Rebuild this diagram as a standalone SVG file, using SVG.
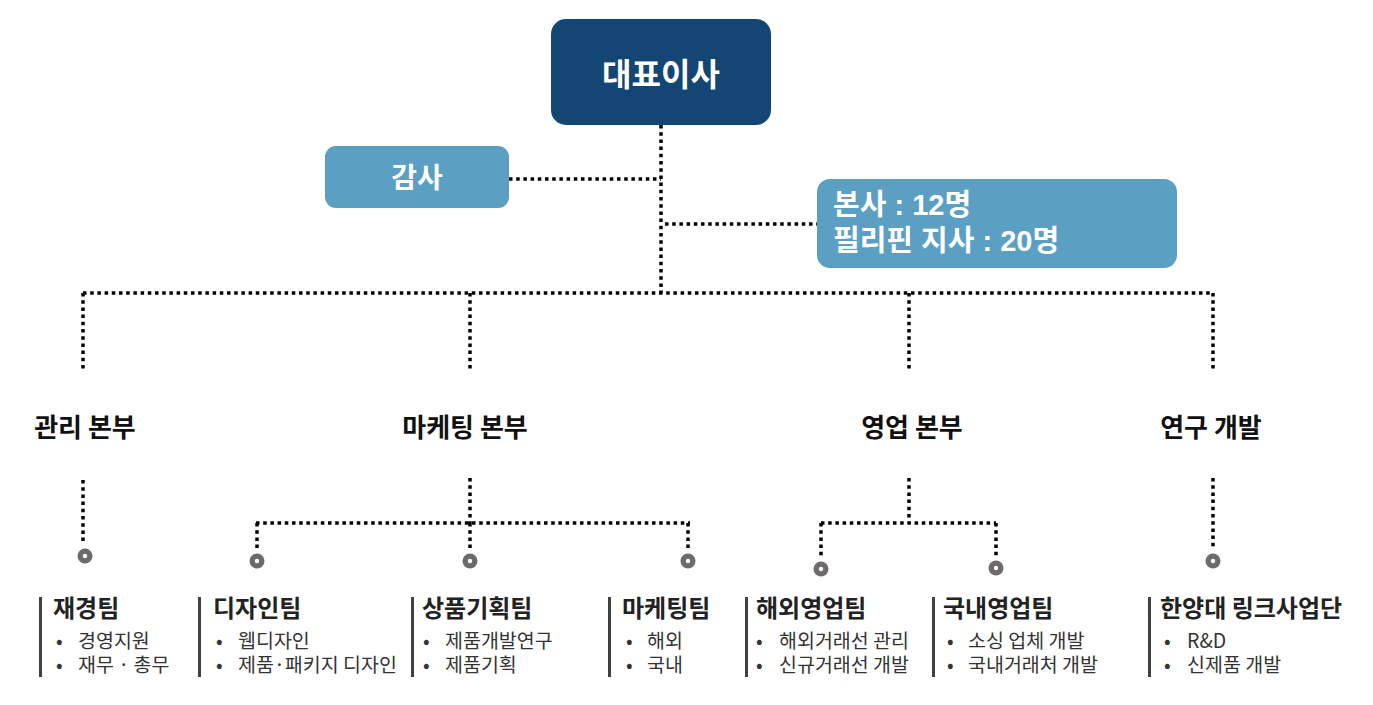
<svg xmlns="http://www.w3.org/2000/svg" width="1373" height="705" viewBox="0 0 1373 705">
<style>
.dot{fill:none;stroke:#000;stroke-width:3.5;stroke-dasharray:3.5 3.7}
.k{font-family:"Noto Sans CJK KR","Liberation Sans",sans-serif}
.box{font-family:"Liberation Sans","Noto Sans CJK KR",sans-serif;font-weight:bold;fill:#fff}
.dept{font-family:"Noto Sans CJK KR",sans-serif;font-weight:bold;font-size:26px;fill:#111;text-anchor:middle}
.tt{font-family:"Noto Sans CJK KR",sans-serif;font-weight:bold;font-size:24px;fill:#222}
.it{font-family:"Noto Sans CJK KR",sans-serif;font-size:19.5px;fill:#333}
.bar{fill:#404040}
.ring{fill:#6e6a6b}
.hole{fill:#fff}
</style>
<rect width="1373" height="705" fill="#fff"/>
<g id="connectors">
<path class="dot" d="M661 125V293"/>
<path class="dot" d="M509 179H661"/>
<path class="dot" d="M665 224H818"/>
<path class="dot" d="M83 293H1213"/>
<path class="dot" d="M83 293V372M470 293V372M909 293V372M1213 293V372"/>
<path class="dot" d="M83 480V544"/>
<path class="dot" d="M470 478V523M256 523H690M257 523V550M470 523V550M688 523V550"/>
<path class="dot" d="M909 478V523M821 523H996M821 523V558M996 523V557"/>
<path class="dot" d="M1213 478V550"/>
</g>
<g id="ceo">
<rect x="551" y="19" width="220" height="106" rx="15" fill="#134673"/>
<text class="box k" x="661" y="86" font-size="32" text-anchor="middle">대표이사</text>
</g>
<g id="audit">
<rect x="325" y="146" width="184" height="62" rx="11" fill="#5b9fc3"/>
<text class="box k" x="417" y="188" font-size="28" text-anchor="middle">감사</text>
</g>
<g id="staff">
<rect x="817" y="179" width="360" height="89" rx="13" fill="#5b9fc3"/>
<text class="box" font-size="29"><tspan x="833" y="215">본사 : 12명</tspan><tspan x="833" y="251">필리핀 지사 : 20명</tspan></text>
</g>
<g id="dept-admin"><text class="dept" x="85" y="437">관리 본부</text></g>
<g id="dept-marketing"><text class="dept" x="465" y="437">마케팅 본부</text></g>
<g id="dept-sales"><text class="dept" x="912" y="437">영업 본부</text></g>
<g id="dept-rnd"><text class="dept" x="1211" y="437">연구 개발</text></g>
<g id="circles">
<circle class="ring" cx="85" cy="556" r="7.5"/><circle class="hole" cx="85" cy="556" r="2.2"/>
<circle class="ring" cx="257" cy="561" r="7.5"/><circle class="hole" cx="257" cy="561" r="2.2"/>
<circle class="ring" cx="470" cy="561" r="7.5"/><circle class="hole" cx="470" cy="561" r="2.2"/>
<circle class="ring" cx="688" cy="561" r="7.5"/><circle class="hole" cx="688" cy="561" r="2.2"/>
<circle class="ring" cx="821" cy="569" r="7.5"/><circle class="hole" cx="821" cy="569" r="2.2"/>
<circle class="ring" cx="996" cy="568" r="7.5"/><circle class="hole" cx="996" cy="568" r="2.2"/>
<circle class="ring" cx="1213" cy="561" r="7.5"/><circle class="hole" cx="1213" cy="561" r="2.2"/>
</g>
<g id="team-finance">
<rect class="bar" x="39" y="597" width="3" height="80"/>
<text class="tt" x="53" y="617">재경팀</text>
<text class="it"><tspan x="56" y="648">•</tspan><tspan x="78">경영지원</tspan><tspan x="56" y="672">•</tspan><tspan x="78">재무 · 총무</tspan></text>
</g>
<g id="team-design">
<rect class="bar" x="198" y="597" width="3" height="80"/>
<text class="tt" x="213" y="617">디자인팀</text>
<text class="it"><tspan x="216" y="648">•</tspan><tspan x="238">웹디자인</tspan><tspan x="216" y="672">•</tspan><tspan x="238">제품·패키지 디자인</tspan></text>
</g>
<g id="team-product">
<rect class="bar" x="411" y="597" width="3" height="80"/>
<text class="tt" x="422" y="617">상품기획팀</text>
<text class="it"><tspan x="423" y="648">•</tspan><tspan x="445">제품개발연구</tspan><tspan x="423" y="672">•</tspan><tspan x="445">제품기획</tspan></text>
</g>
<g id="team-marketing">
<rect class="bar" x="608" y="597" width="3" height="80"/>
<text class="tt" x="622" y="617">마케팅팀</text>
<text class="it"><tspan x="626" y="648">•</tspan><tspan x="647">해외</tspan><tspan x="626" y="672">•</tspan><tspan x="647">국내</tspan></text>
</g>
<g id="team-overseas">
<rect class="bar" x="745" y="597" width="3" height="80"/>
<text class="tt" x="756" y="617">해외영업팀</text>
<text class="it"><tspan x="756" y="648">•</tspan><tspan x="779">해외거래선 관리</tspan><tspan x="756" y="672">•</tspan><tspan x="779">신규거래선 개발</tspan></text>
</g>
<g id="team-domestic">
<rect class="bar" x="932" y="597" width="3" height="80"/>
<text class="tt" x="943" y="617">국내영업팀</text>
<text class="it"><tspan x="947" y="648">•</tspan><tspan x="968">소싱 업체 개발</tspan><tspan x="947" y="672">•</tspan><tspan x="968">국내거래처 개발</tspan></text>
</g>
<g id="team-link">
<rect class="bar" x="1148" y="597" width="3" height="80"/>
<text class="tt" x="1160" y="617">한양대 링크사업단</text>
<text class="it"><tspan x="1164" y="648">•</tspan><tspan x="1187">R&amp;D</tspan><tspan x="1164" y="672">•</tspan><tspan x="1187">신제품 개발</tspan></text>
</g>
</svg>
